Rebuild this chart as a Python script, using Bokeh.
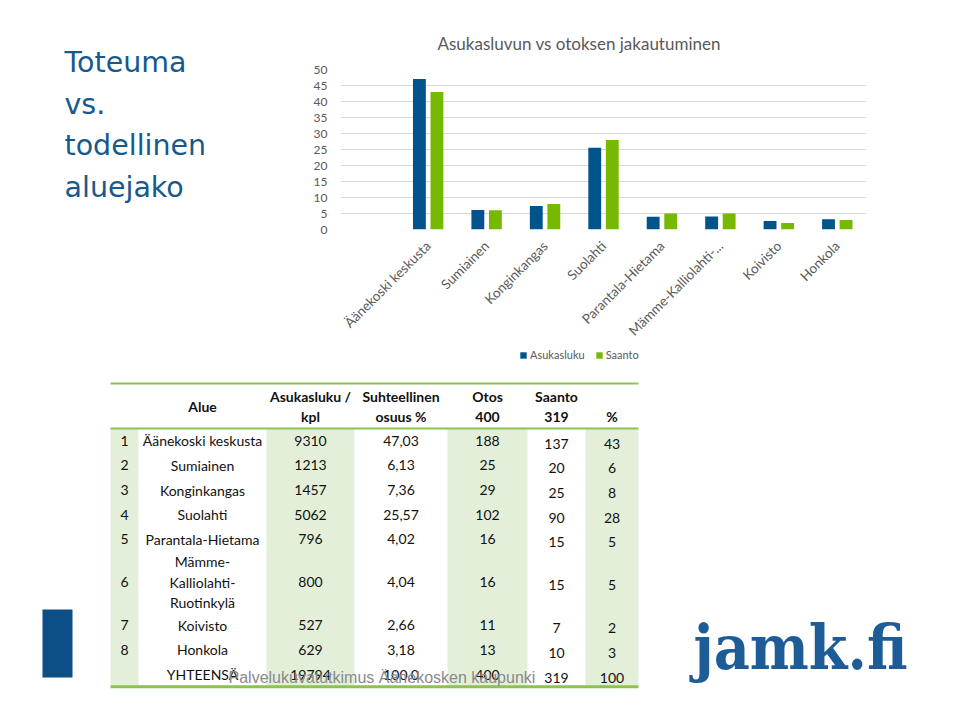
import math
import numpy as np
from bokeh.plotting import figure
from bokeh.models import ColumnDataSource, Range1d, FixedTicker, Label, Legend, LegendItem
from bokeh.layouts import column, row
from bokeh.transform import dodge
from bokeh.core.properties import value
from bokeh.embed import file_html
from bokeh.resources import INLINE

# ---------------- data ----------------
areas = ["Äänekoski keskusta", "Sumiainen", "Konginkangas", "Suolahti",
         "Parantala-Hietama", "Mämme-Kalliolahti-Ruotinkylä", "Koivisto", "Honkola"]
axis_labels = ["Äänekoski keskusta", "Sumiainen", "Konginkangas", "Suolahti",
               "Parantala-Hietama", "Mämme-Kalliolahti-...", "Koivisto", "Honkola"]
asukasluku_kpl = [9310, 1213, 1457, 5062, 796, 800, 527, 629]
osuus_pct = [47.03, 6.13, 7.36, 25.57, 4.02, 4.04, 2.66, 3.18]
otos = [188, 25, 29, 102, 16, 16, 11, 13]
saanto = [137, 20, 25, 90, 15, 15, 7, 10]
saanto_pct = [43, 6, 8, 28, 5, 5, 2, 3]
total_label = "YHTEENSÄ"
total_kpl = 19794
total_osuus = 100.0
total_otos = 400
total_saanto = 319
total_pct = 100
header_line1 = ["", "", "Asukasluku /", "Suhteellinen", "Otos", "Saanto", ""]
header_line2 = ["", "", "kpl", "osuus %", "400", "319", "%"]
header_alue = "Alue"
y_ticks = list(range(0, 51, 5))
series_names = ["Asukasluku", "Saanto"]
chart_title = "Asukasluvun vs otoksen jakautuminen"
slide_title = ["Toteuma", "vs.", "todellinen", "aluejako"]
footer_text = "Palvelukuvatutkimus Äänekosken kaupunki"
logo_text = "jamk.fi"

# ---------------- style ----------------
BLUE = "#00548B"
GREEN = "#76B900"
GRAY = "#595959"
TITLE_BLUE = "#17598C"
TABLE_GREEN_BG = "#E3EFD9"
TABLE_LINE = "#8DC250"
FONT = "Lato"

W, H = 944, 704
TOP_H = 348
BOT_H = H - TOP_H
LEFT_W = 290

# ---------------- left: slide title ----------------
L = figure(width=LEFT_W, height=TOP_H, x_range=Range1d(0, LEFT_W), y_range=Range1d(TOP_H, 0),
           output_backend="svg", toolbar_location=None, min_border=0,
           x_axis_type=None, y_axis_type=None, frame_align=False)
L.grid.visible = False
L.outline_line_color = None
L.text(x=[64] * len(slide_title), y=[62 + 41.7 * i for i in range(len(slide_title))], text=slide_title,
       text_font=value("DejaVu Sans"), text_font_size="28.5px", text_color=TITLE_BLUE,
       text_baseline="middle", text_align="left")

# ---------------- chart ----------------
p = figure(width=W - LEFT_W, height=TOP_H, x_range=Range1d(-1.5, len(areas) - 0.5), y_range=Range1d(0, 50),
           output_backend="svg", toolbar_location=None, frame_align=False,
           min_border_left=340 - LEFT_W, min_border_right=W - 866, min_border_top=69,
           min_border_bottom=TOP_H - 229)
idx = list(range(len(areas)))
src = ColumnDataSource(dict(x=idx, a=osuus_pct, s=saanto_pct))
r1 = p.vbar(x=dodge("x", -0.15, range=p.x_range), top="a", width=0.22, source=src,
            fill_color=BLUE, line_color=None)
r2 = p.vbar(x=dodge("x", 0.15, range=p.x_range), top="s", width=0.22, source=src,
            fill_color=GREEN, line_color=None)

p.outline_line_color = None
p.xgrid.visible = False
p.ygrid.ticker = FixedTicker(ticks=y_ticks)
p.ygrid.grid_line_color = "#D9D9D9"

p.xaxis.ticker = FixedTicker(ticks=idx)
p.xaxis.major_label_overrides = {i: lab for i, lab in enumerate(axis_labels)}
p.xaxis.major_label_orientation = math.pi / 4
p.yaxis.ticker = FixedTicker(ticks=y_ticks)
for ax in (p.xaxis, p.yaxis):
    ax.axis_line_color = None
    ax.major_tick_line_color = None
    ax.major_tick_in = 0
    ax.major_tick_out = 0
    ax.minor_tick_line_color = None
    ax.major_label_text_font = FONT
    ax.major_label_text_color = GRAY
p.xaxis.major_label_text_font_size = "13.5px"
p.yaxis.major_label_text_font_size = "12px"
p.xaxis.major_label_standoff = 14
p.yaxis.major_label_standoff = 13

p.title.text = chart_title
p.title.align = "left"
p.title.offset = 97
p.title.text_font = FONT
p.title.text_font_size = "17px"
p.title.text_font_style = "normal"
p.title.text_color = GRAY
p.title.standoff = 32

# ---------------- table / lower slide ----------------
q = figure(width=W, height=BOT_H, x_range=Range1d(0, W), y_range=Range1d(H, TOP_H),
           output_backend="svg", toolbar_location=None, min_border=0, frame_align=False,
           x_axis_type=None, y_axis_type=None)
q.grid.visible = False
q.outline_line_color = None

# legend of the bar chart (same styling as the bars; renderers carry no visible data)
lg1 = q.vbar(x=np.array([np.nan]), top=np.array([np.nan]), width=1, fill_color=BLUE, line_color=None)
lg2 = q.vbar(x=np.array([np.nan]), top=np.array([np.nan]), width=1, fill_color=GREEN, line_color=None)
legend = Legend(items=[LegendItem(label=series_names[0], renderers=[lg1]),
                       LegendItem(label=series_names[1], renderers=[lg2])],
                orientation="horizontal", location=(519, H - 361),
                border_line_color=None, background_fill_alpha=0,
                label_text_font=FONT, label_text_font_size="11px", label_text_color=GRAY,
                glyph_width=8, glyph_height=8, label_standoff=3, spacing=10,
                padding=0, margin=0, label_height=12)
q.add_layout(legend)

col_edges = [110, 138, 266, 354, 447, 527, 585, 638]
col_centers = [(a + b) / 2 for a, b in zip(col_edges[:-1], col_edges[1:])]
table_top, header_bottom = 383, 428
row_h, line_h = 24.6, 20.5


def wrap(name):
    return name.replace("-", "-\n") if len(name) > 20 else name


body_names = [wrap(a) for a in areas] + [total_label]
heights = [row_h if n.count("\n") == 0 else line_h * (n.count("\n") + 1) for n in body_names]
row_centers = []
yy = header_bottom
for h in heights:
    row_centers.append(yy + h / 2)
    yy += h
table_bottom = yy

shade = [0, 2, 4, 6]
q.quad(left=[col_edges[i] for i in shade], right=[col_edges[i + 1] for i in shade],
       top=header_bottom, bottom=table_bottom, fill_color=TABLE_GREEN_BG, line_color=None)
q.segment(x0=col_edges[0], x1=col_edges[-1], y0=[table_top, header_bottom], y1=[table_top, header_bottom],
          line_color=TABLE_LINE, line_width=2)
q.segment(x0=col_edges[0], x1=col_edges[-1], y0=table_bottom, y1=table_bottom,
          line_color=TABLE_LINE, line_width=3)

hx, hy, ht = [], [], []
for i in range(7):
    if header_line1[i]:
        hx.append(col_centers[i]); hy.append(table_top + 13); ht.append(header_line1[i])
    if header_line2[i]:
        hx.append(col_centers[i]); hy.append(table_top + 33); ht.append(header_line2[i])
hx.append(col_centers[1]); hy.append(table_top + 23); ht.append(header_alue)
q.text(x=hx, y=hy, text=ht, text_font=value(FONT), text_font_size="14px", text_font_style="bold",
       text_align="center", text_baseline="middle", text_color="#111111")


def fmt_dec(v, nd):
    return f"{v:.{nd}f}".replace(".", ",")


col_values = [
    [str(i + 1) for i in range(len(areas))] + [""],
    body_names,
    [str(v) for v in asukasluku_kpl] + [str(total_kpl)],
    [fmt_dec(v, 2) for v in osuus_pct] + [fmt_dec(total_osuus, 1)],
    [str(v) for v in otos] + [str(total_otos)],
    [str(v) for v in saanto] + [str(total_saanto)],
    [str(v) for v in saanto_pct] + [str(total_pct)],
]
bx, by, bt, boff = [], [], [], []
for ci, vals in enumerate(col_values):
    for ri, v in enumerate(vals):
        bx.append(col_centers[ci]); by.append(row_centers[ri]); bt.append(v)
        boff.append(3 if ci >= 5 else 0)
body = ColumnDataSource(dict(x=bx, y=by, text=bt, yo=boff))
q.text(x="x", y="y", text="text", y_offset="yo", source=body, text_font=value(FONT),
       text_font_size="14px", text_align="center", text_baseline="middle",
       text_color="#111111", text_line_height=1.2)

# slide decorations
q.quad(left=42, right=72, top=609, bottom=677, fill_color="#0B4F86", line_color=None)
q.add_layout(Label(x=693, y=647, text=logo_text,
                   text_font="'DejaVu Serif Condensed', 'DejaVu Serif'", text_font_style="bold",
                   text_font_size="62px", text_color="#1D5C97", text_baseline="alphabetic"))
q.add_layout(Label(x=228, y=677, text=footer_text, text_font="Liberation Sans",
                   text_font_size="16px", text_color="#8A8A8A", text_baseline="middle"))

layout = column(row(L, p, spacing=0), q, spacing=0)
open("out.html", "w").write(file_html(layout, INLINE))
